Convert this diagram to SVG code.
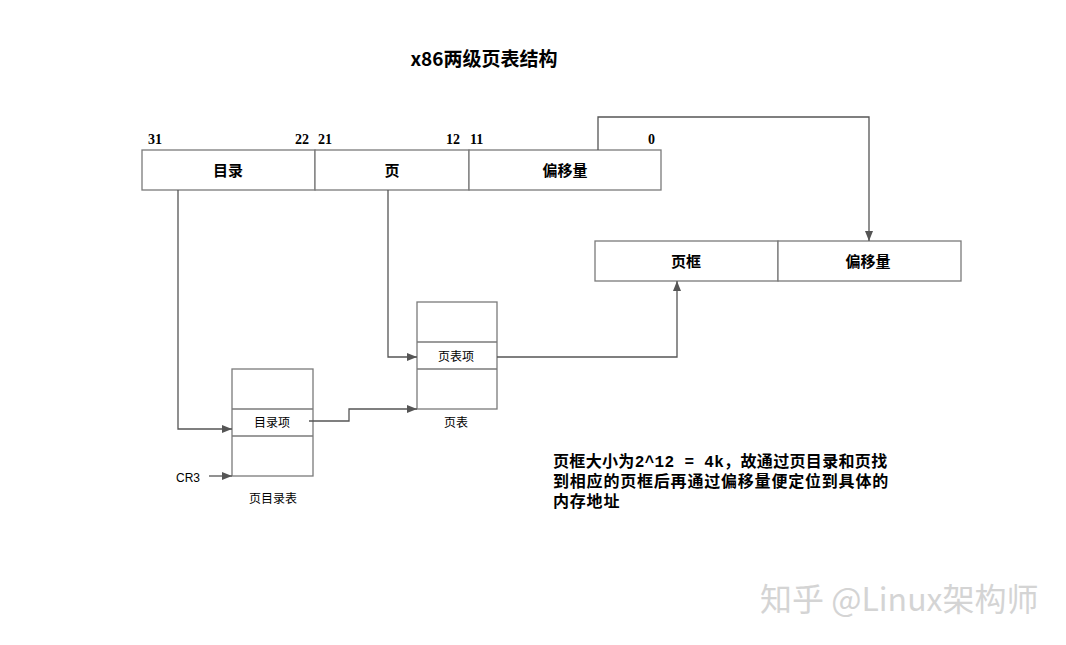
<svg xmlns="http://www.w3.org/2000/svg" width="1066" height="645" viewBox="0 0 1066 645">
<defs>
<style>
.box{fill:#fff;stroke:#7a7a7a;stroke-width:1.3}
.ln{fill:none;stroke:#555;stroke-width:1.3}
.t{font-family:"Noto Sans CJK SC",sans-serif;fill:#000;text-anchor:middle}
.b{font-weight:bold;font-size:15px}
.s{font-size:12px}
.num{font-family:"Liberation Serif","Noto Sans CJK SC",serif;font-weight:bold;font-size:14px;fill:#000}
.note{font-family:"Liberation Mono","Noto Sans CJK SC",monospace;font-weight:bold;font-size:16px;letter-spacing:0.8px;fill:#000}
</style>
<marker id="ar" viewBox="0 0 10 10" refX="10" refY="5" markerWidth="10" markerHeight="10" markerUnits="userSpaceOnUse" orient="auto">
<path d="M0,1 L10,5 L0,9 z" fill="#555"/>
</marker>
</defs>
<rect width="1066" height="645" fill="#fff"/>
<text id="title" x="484" y="66" class="t" style="font-size:19px;font-weight:bold">x86两级页表结构</text>

<g id="bits">
<text x="148" y="144" class="num">31</text>
<text x="295" y="144" class="num">22</text>
<text x="318" y="144" class="num">21</text>
<text x="446" y="144" class="num">12</text>
<text x="470" y="144" class="num">11</text>
<text x="648" y="144" class="num">0</text>
</g>

<g id="linear">
<rect x="142" y="150" width="173" height="40" class="box"/>
<rect x="315" y="150" width="154" height="40" class="box"/>
<rect x="469" y="150" width="192" height="40" class="box"/>
<text x="228" y="176" class="t b">目录</text>
<text x="392" y="176" class="t b">页</text>
<text x="565" y="176" class="t b">偏移量</text>
</g>

<g id="physical">
<rect x="595" y="241" width="183" height="40" class="box"/>
<rect x="778" y="241" width="183" height="40" class="box"/>
<text x="686" y="267" class="t b">页框</text>
<text x="868" y="267" class="t b">偏移量</text>
</g>

<g id="pagetable">
<rect x="417" y="302" width="80" height="107" class="box"/>
<line x1="417" y1="342" x2="497" y2="342" class="box"/>
<line x1="417" y1="369" x2="497" y2="369" class="box"/>
<text x="456" y="361" class="t s">页表项</text>
<text x="456" y="427" class="t s">页表</text>
</g>

<g id="pagedir">
<rect x="232" y="369" width="81" height="107" class="box"/>
<line x1="232" y1="409" x2="313" y2="409" class="box"/>
<line x1="232" y1="436" x2="313" y2="436" class="box"/>
<text x="272" y="427" class="t s">目录项</text>
<text x="273" y="503" class="t s">页目录表</text>
</g>

<g id="cr3">
<text x="188" y="482" class="t s" style="font-family:'Liberation Sans',sans-serif">CR3</text>
</g>

<g id="connectors">
<path d="M598,150 V117 H869 V241" class="ln" marker-end="url(#ar)"/>
<path d="M178,190 V429 H232" class="ln" marker-end="url(#ar)"/>
<path d="M388,190 V357 H417" class="ln" marker-end="url(#ar)"/>
<path d="M309,421 H349 V409 H417" class="ln" marker-end="url(#ar)"/>
<path d="M497,357 H677 V281" class="ln" marker-end="url(#ar)"/>
<path d="M209,476 H232" class="ln" marker-end="url(#ar)"/>
</g>

<g id="note">
<text x="553" y="467" class="note" textLength="335" lengthAdjust="spacing">页框大小为2^12 = 4k，故通过页目录和页找</text>
<text x="553" y="487" class="note">到相应的页框后再通过偏移量便定位到具体的</text>
<text x="553" y="507" class="note">内存地址</text>
</g>

<text id="watermark" x="760" y="611" style="font-family:'Noto Sans CJK SC',sans-serif;font-size:32px;fill:#d4d4d4">知乎 @Linux架构师</text>
</svg>
